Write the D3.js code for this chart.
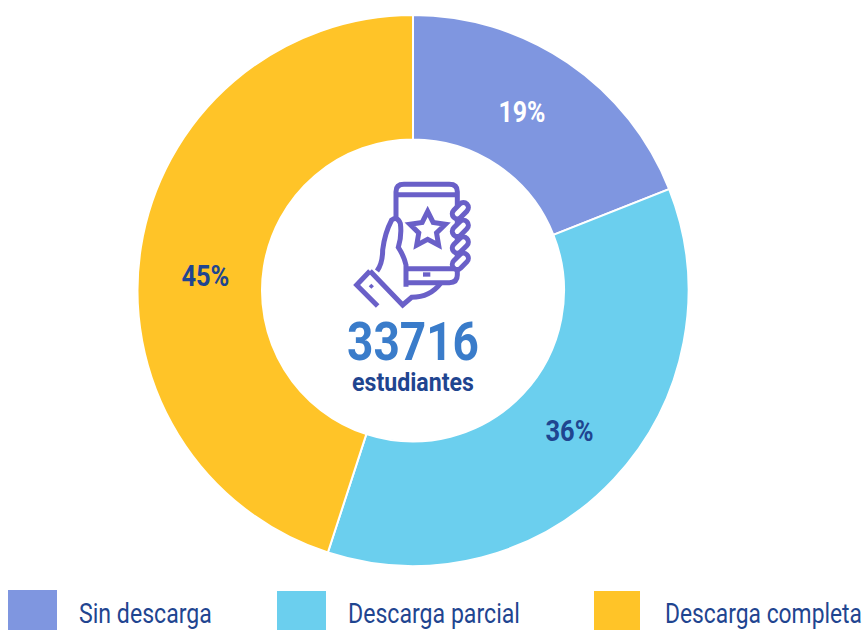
<!DOCTYPE html>
<html>
<head>
<meta charset="utf-8">
<script src="https://cdn.jsdelivr.net/npm/d3@7"></script>
<style>
  html, body { margin: 0; padding: 0; background: #fff; }
  svg { display: block; }
  text { font-family: Roboto, sans-serif; }
</style>
</head>
<body>
<div id="chart"></div>
<script>
const categories = ["Sin descarga", "Descarga parcial", "Descarga completa"];
const percents = [19, 36, 45];
const totalLabel = "33716";
const totalUnit = "estudiantes";

const colors = ["#7f96e0", "#6bcfee", "#ffc428"];
const labelColors = ["#ffffff", "#1f4590", "#1f4590"];
// the original labels are not quite on the centroids
const labelNudge = [[-11, -1], [1, -4], [3, 20]];
const labelWidths = [47, 48, 48];

const legendX = [8, 277, 594];
const legendY = [590, 591, 591];
const legendW = [49, 49, 46];
const legendTextX = [79, 348, 665];
const legendTextW = [133, 172, 197];

const CX = 413, CY = 290.5, R_OUT = 275.5, R_IN = 151;

const svg = d3.select("#chart").append("svg")
    .attr("width", 865)
    .attr("height", 630);

// Roboto is wider than the original face, so squeeze each text to its width
function fitText(sel, x, y, width) {
    sel.each(function (d, i) {
        const natural = this.getComputedTextLength();
        d3.select(this).attr("transform",
            `translate(${x(d, i)},${y(d, i)}) scale(${width(d, i) / natural},1)`);
    });
}

const pie = d3.pie().sort(null).value(d => d);
const arc = d3.arc().innerRadius(R_IN).outerRadius(R_OUT);

const donut = svg.append("g").attr("transform", `translate(${CX},${CY})`);

donut.selectAll("path")
    .data(pie(percents))
    .enter()
    .append("path")
    .attr("d", arc)
    .attr("fill", (d, i) => colors[i])
    .attr("stroke", "#fff")
    .attr("stroke-width", 2);

donut.selectAll("text")
    .data(pie(percents))
    .enter()
    .append("text")
    .attr("text-anchor", "middle")
    .attr("font-size", 30)
    .attr("font-weight", 700)
    .attr("fill", (d, i) => labelColors[i])
    .text(d => d.value + "%")
    .call(fitText,
        (d, i) => arc.centroid(d)[0] + labelNudge[i][0],
        (d, i) => arc.centroid(d)[1] + labelNudge[i][1] + 9,
        (d, i) => labelWidths[i]);

// Centre text
svg.append("text")
    .attr("text-anchor", "middle")
    .attr("font-size", 54)
    .attr("font-weight", 700)
    .attr("fill", "#3a7cca")
    .text(totalLabel)
    .call(fitText, () => 413, () => 360, () => 132);

svg.append("text")
    .attr("text-anchor", "middle")
    .attr("font-size", 25)
    .attr("font-weight", 700)
    .attr("fill", "#1f4590")
    .text(totalUnit)
    .call(fitText, () => 413, () => 391, () => 122);

// Phone icon, drawn in the units of a 3x crop
const icon = svg.append("g")
    .attr("transform", "translate(340,170) scale(0.3333)")
    .attr("fill", "none")
    .attr("stroke", "#6a60c8")
    .attr("stroke-width", 15);

const iconPaths = [
    "M168 150 V65 Q168 43 192 43 H328 Q352 43 352 65 V290",
    "M168 74 H352",
    "M200 296 H352 V315 Q352 338 328 338 H200",
    "M111 303 Q128 280 128 240 Q134 190 155 150 Q172 138 181 160 Q186 195 175 232 Q192 258 198 285 V350",
    "M90 303 L188 405 L215 382 Q270 382 302 340",
    "M90 303 L50 345 L113 408"
];
icon.selectAll("path.line")
    .data(iconPaths)
    .enter()
    .append("path")
    .attr("class", "line")
    .attr("d", d => d);

const starPoints = d3.range(10).map(i => [i * Math.PI / 5, i % 2 ? 28 : 56]);
icon.append("path")
    .attr("transform", "translate(263,180)")
    .attr("d", d3.lineRadial().curve(d3.curveLinearClosed)(starPoints));

[122, 175, 225, 274].forEach(y => {
    icon.append("rect")
        .attr("x", -28).attr("y", -15)
        .attr("width", 56).attr("height", 30)
        .attr("rx", 15)
        .attr("fill", "#fff")
        .attr("transform", `translate(361,${y}) rotate(-45)`);
});

icon.append("rect")
    .attr("x", 249).attr("y", 307)
    .attr("width", 22).attr("height", 13)
    .attr("fill", "#6a60c8").attr("stroke", "none");
icon.append("rect")
    .attr("x", 89).attr("y", 343)
    .attr("width", 11).attr("height", 11)
    .attr("transform", "rotate(45 94 348)")
    .attr("fill", "#6a60c8").attr("stroke", "none");

// Legend
const legend = svg.append("g")
    .selectAll("g")
    .data(categories)
    .enter()
    .append("g");

legend.append("rect")
    .attr("x", (d, i) => legendX[i])
    .attr("y", (d, i) => legendY[i])
    .attr("width", (d, i) => legendW[i])
    .attr("height", (d, i) => 630 - legendY[i])
    .attr("fill", (d, i) => colors[i]);

legend.append("text")
    .attr("font-size", 27)
    .attr("fill", "#1f4590")
    .text(d => d)
    .call(fitText,
        (d, i) => legendTextX[i],
        () => 622.5,
        (d, i) => legendTextW[i]);
</script>
</body>
</html>
